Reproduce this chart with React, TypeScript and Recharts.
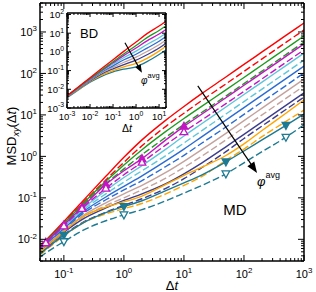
import React from 'react';
import { LineChart, Line, XAxis, YAxis, ReferenceLine } from 'recharts';

const FONT = '"Liberation Sans", Arial, Helvetica, sans-serif';

// ---- MD (main panel) ----
const mdTimes = [0.04, 0.05, 0.1, 0.2, 0.5, 1, 2, 5, 10, 20, 50, 100, 200, 500, 1000];

const redS = [0.007, 0.0095, 0.027, 0.08, 0.33, 0.95, 2.5, 7.5, 16, 33, 82, 165, 330, 825, 1650];
const redD = [0.0068, 0.009, 0.025, 0.072, 0.27, 0.72, 1.8, 5.3, 11, 22.5, 56, 112, 224, 560, 1120];
const greenS = [0.0067, 0.009, 0.024, 0.068, 0.25, 0.62, 1.45, 4, 8.2, 16.3, 40, 80, 160, 400, 800];
const greenD = [0.0065, 0.0088, 0.023, 0.063, 0.22, 0.5, 1.1, 2.9, 5.9, 11.6, 28.5, 57, 114, 285, 570];
const magS = [0.0063, 0.0085, 0.022, 0.059, 0.21, 0.45, 0.88, 2.5, 5.3, 10.5, 26, 52, 103, 258, 515];
const magD = [0.0061, 0.0082, 0.021, 0.055, 0.17, 0.36, 0.72, 1.9, 3.9, 7.6, 18.7, 37, 74, 185, 370];
const cyanS = [0.006, 0.008, 0.02, 0.052, 0.15, 0.31, 0.6, 1.5, 3.1, 6.2, 15.5, 31, 62, 155, 310];
const cyanD = [0.0059, 0.0078, 0.019, 0.048, 0.125, 0.24, 0.45, 1.05, 2.1, 4.2, 10.5, 21, 42, 105, 210];
const blueS = [0.0057, 0.0076, 0.018, 0.044, 0.105, 0.19, 0.34, 0.78, 1.5, 3.0, 7.5, 15, 30, 75, 150];
const blueD = [0.0055, 0.0073, 0.017, 0.04, 0.09, 0.155, 0.26, 0.57, 1.06, 2.1, 5.1, 10.3, 20.6, 51, 103];
const rosyS = [0.0053, 0.007, 0.016, 0.036, 0.076, 0.125, 0.2, 0.41, 0.76, 1.47, 3.6, 7.3, 14.6, 36.5, 73];
const rosyD = [0.0051, 0.0067, 0.0155, 0.033, 0.065, 0.1, 0.155, 0.3, 0.54, 1.02, 2.5, 5, 10, 25, 50];
const navyS = [0.0049, 0.0064, 0.0148, 0.03, 0.057, 0.087, 0.125, 0.22, 0.38, 0.7, 1.7, 3.4, 6.8, 17, 34];
const navyD = [0.0046, 0.006, 0.013, 0.025, 0.045, 0.066, 0.095, 0.17, 0.29, 0.54, 1.3, 2.7, 5.4, 13.5, 27];
const orangeS = [0.0048, 0.0064, 0.0155, 0.034, 0.06, 0.08, 0.11, 0.21, 0.35, 0.55, 1.05, 2.0, 4.2, 11, 23];
const orangeD = [0.0042, 0.0055, 0.012, 0.024, 0.041, 0.055, 0.073, 0.125, 0.2, 0.33, 0.8, 1.5, 3, 7, 13];
const tealS = [0.0044, 0.0058, 0.0126, 0.024, 0.044, 0.062, 0.085, 0.15, 0.23, 0.36, 0.74, 1.35, 2.5, 5.6, 10.5];
const tealD = [0.0037, 0.0047, 0.0088, 0.016, 0.028, 0.039, 0.052, 0.085, 0.13, 0.2, 0.38, 0.7, 1.3, 2.9, 5.8];

const magMarks = [0.05, 0.1, 0.2, 0.5, 2, 10];
const tealMarks = [0.1, 1, 50, 500];

// ---- BD (inset) ----
const bdTimes = [0.001, 0.003, 0.01, 0.03, 0.1, 0.3, 1, 3, 10, 20];
const bdRed = [0.0045, 0.013, 0.042, 0.12, 0.38, 1.1, 3.4, 9.5, 24, 44];
const bdGreen = [0.0044, 0.012, 0.038, 0.1, 0.3, 0.8, 2.2, 5.8, 14, 25];
const bdMag = [0.0043, 0.012, 0.036, 0.095, 0.26, 0.65, 1.6, 3.9, 9, 16];
const bdCyan = [0.0042, 0.0115, 0.034, 0.088, 0.22, 0.5, 1.1, 2.5, 5.7, 10];
const bdBlue = [0.0041, 0.011, 0.032, 0.08, 0.18, 0.38, 0.75, 1.6, 3.7, 6.6];
const bdRosy = [0.004, 0.0105, 0.03, 0.072, 0.15, 0.28, 0.52, 1.05, 2.4, 4.3];
const bdNavy = [0.0039, 0.01, 0.028, 0.064, 0.125, 0.21, 0.36, 0.7, 1.6, 2.9];
const bdOrange = [0.0038, 0.0095, 0.026, 0.056, 0.1, 0.16, 0.24, 0.45, 1.1, 2.0];
const bdTeal = [0.0036, 0.009, 0.024, 0.048, 0.085, 0.12, 0.16, 0.3, 0.72, 1.25];

// tick decades
const mdXMajors = [0.1, 1, 10, 100, 1000];
const mdYMajors = [0.01, 0.1, 1, 10, 100, 1000];
const bdXMajors = [0.001, 0.01, 0.1, 1, 10];
const bdYMajors = [0.001, 0.01, 0.1, 1, 10, 100];

const C = {
  red: '#ff0000',
  green: '#1f9a1f',
  mag: '#c414c4',
  cyan: '#5ec6da',
  blue: '#2a6cd4',
  rosy: '#c4a29c',
  navy: '#3d3d8e',
  orange: '#ffa500',
  teal: '#1c7a92',
};

const mdStyle = [
  { key: 'redS', vals: redS, color: C.red, dash: false },
  { key: 'redD', vals: redD, color: C.red, dash: true },
  { key: 'greenS', vals: greenS, color: C.green, dash: false },
  { key: 'greenD', vals: greenD, color: C.green, dash: true },
  { key: 'cyanS', vals: cyanS, color: C.cyan, dash: false },
  { key: 'cyanD', vals: cyanD, color: C.cyan, dash: true },
  { key: 'blueS', vals: blueS, color: C.blue, dash: false },
  { key: 'blueD', vals: blueD, color: C.blue, dash: true },
  { key: 'rosyS', vals: rosyS, color: C.rosy, dash: false },
  { key: 'rosyD', vals: rosyD, color: C.rosy, dash: true },
  { key: 'navyS', vals: navyS, color: C.navy, dash: false },
  { key: 'navyD', vals: navyD, color: C.navy, dash: true },
  { key: 'orangeS', vals: orangeS, color: C.orange, dash: false },
  { key: 'orangeD', vals: orangeD, color: C.orange, dash: true },
  { key: 'magS', vals: magS, color: C.mag, dash: false, marks: magMarks, down: false },
  { key: 'magD', vals: magD, color: C.mag, dash: true, marks: magMarks, down: false },
  { key: 'tealS', vals: tealS, color: C.teal, dash: false, marks: tealMarks, down: true },
  { key: 'tealD', vals: tealD, color: C.teal, dash: true, marks: tealMarks, down: true },
];

const bdStyle = [
  { key: 'teal', vals: bdTeal, color: C.teal },
  { key: 'orange', vals: bdOrange, color: C.orange },
  { key: 'navy', vals: bdNavy, color: C.navy },
  { key: 'rosy', vals: bdRosy, color: C.rosy },
  { key: 'blue', vals: bdBlue, color: C.blue },
  { key: 'cyan', vals: bdCyan, color: C.cyan },
  { key: 'mag', vals: bdMag, color: C.mag },
  { key: 'green', vals: bdGreen, color: C.green },
  { key: 'red', vals: bdRed, color: C.red },
];

// majors plus 2..9 minor ticks inside [lo, hi]
function logTicks(majors: number[], lo: number, hi: number) {
  const out: number[] = [];
  const first = majors[0] / 10;
  for (let d = first; d <= hi * 1.0001; d *= 10) {
    for (let m = 1; m <= 9; m++) {
      const v = parseFloat((d * m).toPrecision(6));
      if (v >= lo * 0.9999 && v <= hi * 1.0001) out.push(v);
    }
  }
  return out;
}

function isMajor(v: number) {
  const l = Math.log10(v);
  return Math.abs(l - Math.round(l)) < 1e-6;
}

function LogTick(p: any) {
  const { x, y, payload, side, big, small, fs, off } = p;
  const v = payload.value;
  const major = isMajor(v);
  const len = major ? big : small;
  const exp = Math.round(Math.log10(v));
  let tick;
  if (side === 'bottom') tick = <line x1={x} y1={y} x2={x} y2={y - len} stroke="#000" strokeWidth={1} />;
  else if (side === 'top') tick = <line x1={x} y1={y} x2={x} y2={y + len} stroke="#000" strokeWidth={1} />;
  else if (side === 'left') tick = <line x1={x} y1={y} x2={x + len} y2={y} stroke="#000" strokeWidth={1} />;
  else tick = <line x1={x} y1={y} x2={x - len} y2={y} stroke="#000" strokeWidth={1} />;
  let label = null;
  if (major && side === 'bottom') {
    label = (
      <text x={x} y={y + off} textAnchor="middle" fontSize={fs} fontFamily={FONT} fill="#000">
        10<tspan dy={-fs * 0.45} fontSize={fs * 0.72}>{exp}</tspan>
      </text>
    );
  } else if (major && side === 'left') {
    label = (
      <text x={x - off} y={y + fs * 0.38} textAnchor="end" fontSize={fs} fontFamily={FONT} fill="#000">
        10<tspan dy={-fs * 0.45} fontSize={fs * 0.72}>{exp}</tspan>
      </text>
    );
  }
  return (
    <g>
      {tick}
      {label}
    </g>
  );
}

const triDot = (marks: number[] | undefined, color: string, filled: boolean, down: boolean) => (p: any) => {
  const { cx, cy, payload, index } = p;
  if (!marks || !marks.includes(payload.t)) return <g key={`n${index}`} />;
  const s = 3.8;
  const pts = down
    ? `${cx - s},${cy - s * 0.75} ${cx + s},${cy - s * 0.75} ${cx},${cy + s * 1.05}`
    : `${cx - s},${cy + s * 0.75} ${cx + s},${cy + s * 0.75} ${cx},${cy - s * 1.05}`;
  return <polygon key={`m${index}`} points={pts} fill={filled ? color : '#fff'} stroke={color} strokeWidth={1.3} />;
};

const arrowShape = (size: number) => (p: any) => {
  const { x1, y1, x2, y2 } = p;
  const a = Math.atan2(y2 - y1, x2 - x1);
  const hx = x2 - size * Math.cos(a);
  const hy = y2 - size * Math.sin(a);
  const w = size * 0.38;
  const pts = `${x2},${y2} ${hx + w * Math.sin(a)},${hy - w * Math.cos(a)} ${hx - w * Math.sin(a)},${hy + w * Math.cos(a)}`;
  return (
    <g>
      <line x1={x1} y1={y1} x2={hx + 1 * Math.cos(a)} y2={hy + 1 * Math.sin(a)} stroke="#000" strokeWidth={1.2} />
      <polygon points={pts} fill="#000" />
    </g>
  );
};

export default function App() {
  const mdData = mdTimes.map((t, i) => {
    const row: any = { t };
    mdStyle.forEach((s) => (row[s.key] = s.vals[i]));
    return row;
  });
  const bdData = bdTimes.map((t, i) => {
    const row: any = { t };
    bdStyle.forEach((s) => (row[s.key] = s.vals[i]));
    return row;
  });

  const mdX = logTicks(mdXMajors, 0.04, 1000);
  const mdY = logTicks(mdYMajors, 0.003, 5000);
  const bdX = logTicks(bdXMajors, 0.001, 20);
  const bdY = logTicks(bdYMajors, 0.001, 120);

  const axisLine = { stroke: '#000', strokeWidth: 1.5 };
  const common = { type: 'number' as const, scale: 'log' as const, allowDataOverflow: true, interval: 0 as const, tickSize: 0, tickMargin: 0, tickLine: false };

  return (
    <div style={{ position: 'absolute', left: 0, top: 0, width: 316, height: 292, background: '#fff' }}>
      <LineChart width={316} height={292} data={mdData} margin={{ top: 2, right: 11, bottom: 6, left: 0 }}>
        <XAxis xAxisId="b" dataKey="t" {...common} domain={[0.04, 1000]} ticks={mdX} height={25} axisLine={axisLine}
          tick={(p: any) => <LogTick {...p} side="bottom" big={6} small={3} fs={11} off={17} />} />
        <XAxis xAxisId="t" dataKey="t" orientation="top" {...common} domain={[0.04, 1000]} ticks={mdX} height={1} axisLine={axisLine}
          tick={(p: any) => <LogTick {...p} side="top" big={6} small={3} fs={11} off={0} />} />
        <YAxis yAxisId="l" {...common} domain={[0.003, 5000]} ticks={mdY} width={40} axisLine={axisLine}
          tick={(p: any) => <LogTick {...p} side="left" big={6} small={3} fs={11} off={3} />} />
        <YAxis yAxisId="r" orientation="right" {...common} domain={[0.003, 5000]} ticks={mdY} width={1} axisLine={axisLine}
          tick={(p: any) => <LogTick {...p} side="right" big={6} small={3} fs={11} off={0} />} />
        {mdStyle.map((s) => (
          <Line key={s.key} xAxisId="b" yAxisId="l" type="monotone" dataKey={s.key} stroke={s.color} strokeWidth={1.4}
            strokeDasharray={s.dash ? '7 3' : undefined} isAnimationActive={false}
            dot={s.marks ? triDot(s.marks, s.color, !s.dash, !!s.down) : false} activeDot={false} />
        ))}
        <ReferenceLine xAxisId="b" yAxisId="l" segment={[{ x: 17, y: 50 }, { x: 165, y: 0.4 }]} ifOverflow="visible" shape={arrowShape(11)} />
      </LineChart>

      <div style={{ position: 'absolute', left: 36, top: 8 }}>
        <LineChart width={136} height={128} data={bdData} margin={{ top: 4, right: 5, bottom: 1, left: 0 }}>
          <XAxis xAxisId="b" dataKey="t" {...common} domain={[0.001, 20]} ticks={bdX} height={27} axisLine={axisLine}
            tick={(p: any) => <LogTick {...p} side="bottom" big={4} small={2} fs={9.5} off={12} />} />
          <XAxis xAxisId="t" dataKey="t" orientation="top" {...common} domain={[0.001, 20]} ticks={bdX} height={1} axisLine={axisLine}
            tick={(p: any) => <LogTick {...p} side="top" big={4} small={2} fs={9.5} off={0} />} />
          <YAxis yAxisId="l" {...common} domain={[0.001, 120]} ticks={bdY} width={31} axisLine={axisLine}
            tick={(p: any) => <LogTick {...p} side="left" big={4} small={2} fs={9.5} off={3} />} />
          <YAxis yAxisId="r" orientation="right" {...common} domain={[0.001, 120]} ticks={bdY} width={1} axisLine={axisLine}
            tick={(p: any) => <LogTick {...p} side="right" big={4} small={2} fs={9.5} off={0} />} />
          {bdStyle.map((s) => (
            <Line key={s.key} xAxisId="b" yAxisId="l" type="monotone" dataKey={s.key} stroke={s.color} strokeWidth={1.3}
              isAnimationActive={false} dot={false} activeDot={false} />
          ))}
          <ReferenceLine xAxisId="b" yAxisId="l" segment={[{ x: 0.33, y: 3.1 }, { x: 1.8, y: 0.076 }]} ifOverflow="visible" shape={arrowShape(8)} />
        </LineChart>
      </div>

      <svg width={316} height={292} style={{ position: 'absolute', left: 0, top: 0, pointerEvents: 'none' }} fontFamily={FONT}>
        <text transform="translate(16,136) rotate(-90)" textAnchor="middle" fontSize={13} fill="#000">
          MSD<tspan dy={3} fontSize={9} fontStyle="italic">xy</tspan>
          <tspan dy={-3}>(Δ</tspan><tspan fontStyle="italic">t</tspan>)
        </text>
        <text x={172} y={290} textAnchor="middle" fontSize={13} fill="#000">
          Δ<tspan fontStyle="italic">t</tspan>
        </text>
        <text x={127} y={132} textAnchor="middle" fontSize={10.5} fill="#000">
          Δ<tspan fontStyle="italic">t</tspan>
        </text>
        <text x={235} y={215} textAnchor="middle" fontSize={15} fill="#000">MD</text>
        <text x={80} y={38} fontSize={13} fill="#000">BD</text>
        <text x={257} y={186} fontSize={13} fontStyle="italic" fill="#000">
          φ<tspan dy={-8} fontSize={9} fontStyle="normal">avg</tspan>
        </text>
        <text x={141} y={84} fontSize={10} fontStyle="italic" fill="#000">
          φ<tspan dy={-6} fontSize={7.5} fontStyle="normal">avg</tspan>
        </text>
      </svg>
    </div>
  );
}
